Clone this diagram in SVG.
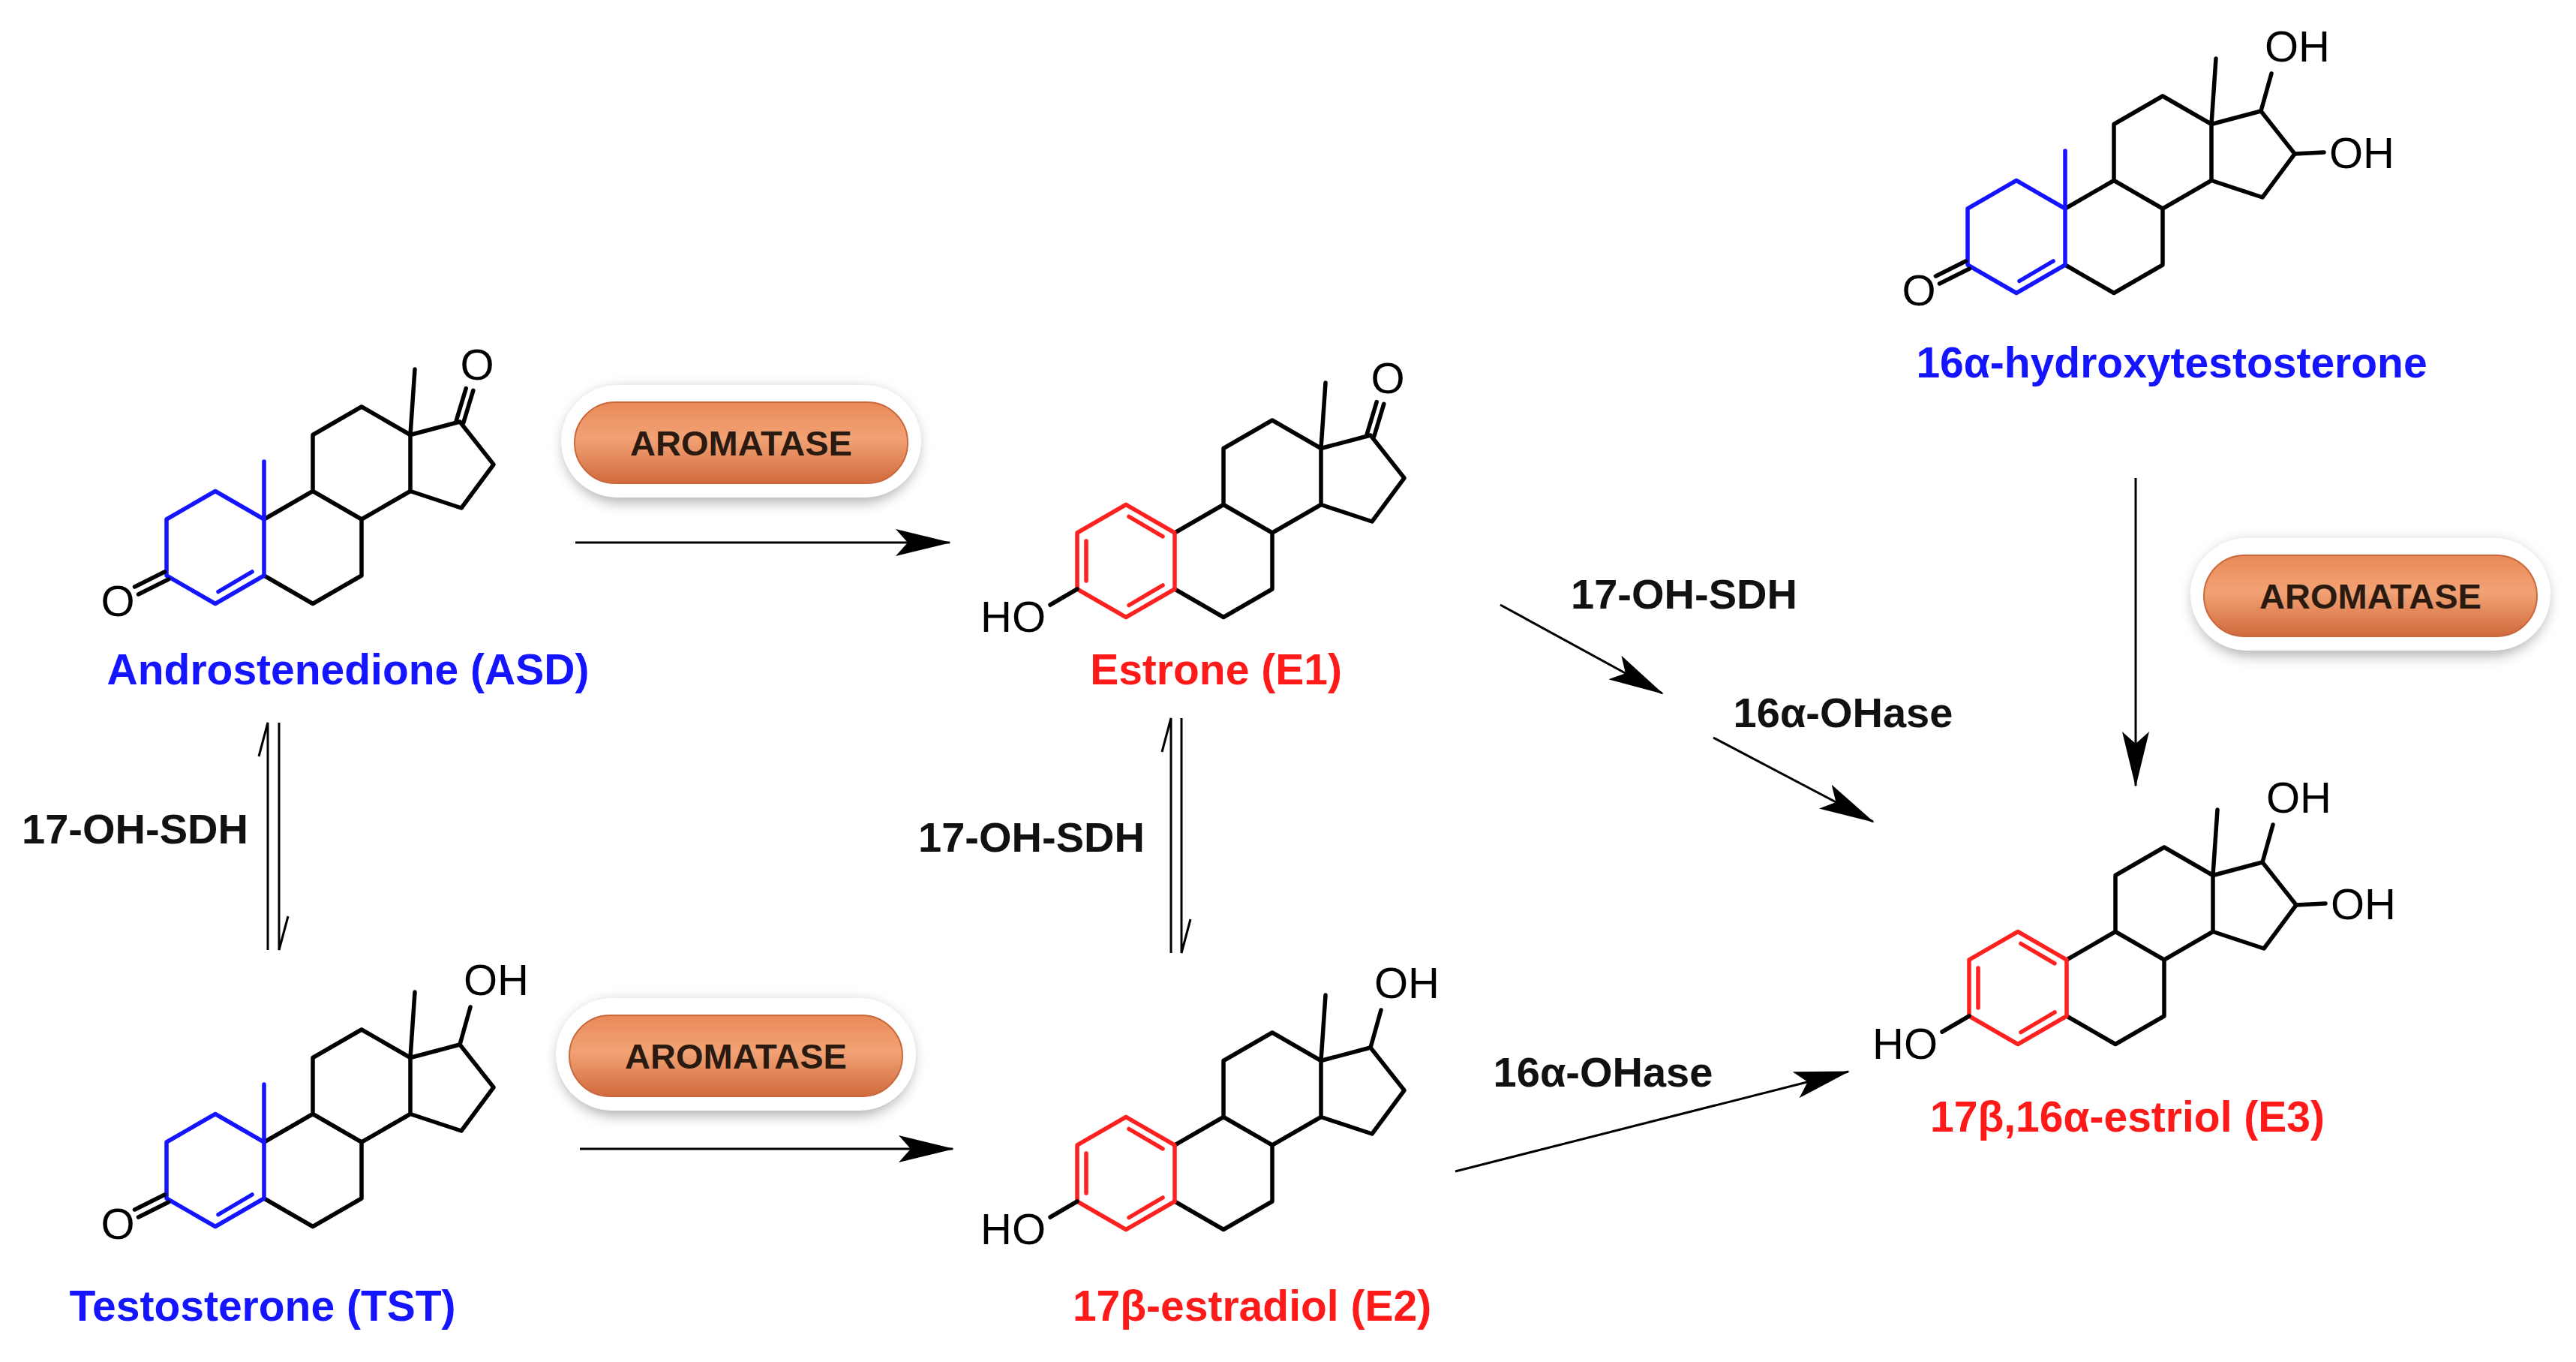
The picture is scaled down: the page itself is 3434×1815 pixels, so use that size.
<svg xmlns="http://www.w3.org/2000/svg" xmlns:xlink="http://www.w3.org/1999/xlink" width="3434" height="1815" viewBox="0 0 3434 1815">
<style>
.bk{fill:none;stroke:#000;stroke-width:5.5;stroke-linecap:round;stroke-linejoin:round}
.bl{fill:none;stroke:#1414ff;stroke-width:5.5;stroke-linecap:round;stroke-linejoin:round}
.rd{fill:none;stroke:#ff2020;stroke-width:5.5;stroke-linecap:round;stroke-linejoin:round}
.at{font-family:"Liberation Sans",Arial,sans-serif;font-size:58px;fill:#000}
.nm{font-family:"Liberation Sans",Arial,sans-serif;font-size:57px;font-weight:bold;text-anchor:middle}
.blue{fill:#1414ff}.red{fill:#ff1a1a}
.enz{font-family:"Liberation Sans",Arial,sans-serif;font-size:56px;font-weight:bold;fill:#111;text-anchor:middle}
.ar{fill:none;stroke:#000;stroke-width:3}
.pt{font-family:"Liberation Sans",Arial,sans-serif;font-size:47px;font-weight:bold;fill:#2a1a10;text-anchor:middle}
</style>
<defs>
<marker id="ah" viewBox="0 0 74 36" refX="72" refY="18" markerWidth="74" markerHeight="36" markerUnits="userSpaceOnUse" orient="auto">
<path d="M0,0 L74,18 L0,36 L16,18 Z" fill="#000"/>
</marker>
<linearGradient id="og" x1="0" y1="0" x2="0" y2="1">
<stop offset="0" stop-color="#e98a58"/><stop offset="0.45" stop-color="#f2a275"/><stop offset="1" stop-color="#d06a3c"/>
</linearGradient>
<filter id="sh" x="-20%" y="-40%" width="140%" height="180%"><feGaussianBlur stdDeviation="9"/></filter>
<g id="pill">
<rect x="-236" y="-72" width="472" height="150" rx="75" fill="#888" opacity="0.7" filter="url(#sh)"/>
<rect x="-240" y="-78" width="480" height="150" rx="75" fill="#fff"/>
<rect x="-222" y="-55" width="444" height="108" rx="54" fill="url(#og)" stroke="#c9683c" stroke-width="2"/>
</g>
<g id="bcd">
<path class="bk" d="M0,75 L65,112.5 L130,75 L130,0 L65,-37.5 L0,0 M65,-37.5 L65,-112.5 L130,-150 L195,-112.5 L195,-37.5 L130,0 M195,-112.5 L261,-130 L306,-73 L263,-15 L195,-37.5 M195,-112.5 L201,-200"/>
</g>
<g id="andA">
<path class="bl" d="M0,0 L-65,-37.5 L-130,0 L-130,75 L-65,112.5 L0,75 Z M-61,96.5 L-16,70 M0,0 L0,-77"/>
<path class="bk" d="M-127.5,80 L-167.5,100 M-132.5,70 L-172.5,90"/>
<text class="at" x="-195" y="129" text-anchor="middle">O</text>
</g>
<g id="estA">
<path class="rd" d="M0,0 L-65,-37.5 L-130,0 L-130,75 L-65,112.5 L0,75 Z M-61,-21.5 L-16,4.8 M-118,11 L-118,64 M-61,96.5 L-16,70"/>
<path class="bk" d="M-130,75 L-166,96"/>
<text class="at" x="-172" y="132" text-anchor="end">HO</text>
</g>
<g id="keto">
<path class="bk" d="M265.8,-128.6 L278.8,-171.6 M256.2,-131.4 L269.2,-174.4"/>
<text class="at" x="284" y="-186" text-anchor="middle">O</text>
</g>
<g id="oh17">
<path class="bk" d="M261,-130 L275,-180"/>
<text class="at" x="266" y="-196">OH</text>
</g>
<g id="oh16">
<path class="bk" d="M306,-73 L345,-75"/>
<text class="at" x="352" y="-54">OH</text>
</g>
</defs>
<rect width="3434" height="1815" fill="#fff"/>

<g id="connectors">
<line class="ar" x1="767" y1="723" x2="1266" y2="723" marker-end="url(#ah)"/>
<line class="ar" x1="773" y1="1531" x2="1270" y2="1531" marker-end="url(#ah)"/>
<path class="ar" d="M357,1266 L357,963 L345,1008 M372,963 L372,1266 L384,1221"/>
<path class="ar" d="M1561,1270 L1561,957 L1549,1002 M1575,957 L1575,1270 L1587,1225"/>
<line class="ar" x1="2000" y1="806" x2="2216" y2="924" marker-end="url(#ah)"/>
<line class="ar" x1="2284" y1="983" x2="2497" y2="1095" marker-end="url(#ah)"/>
<line class="ar" x1="1940" y1="1561" x2="2464" y2="1428" marker-end="url(#ah)"/>
<line class="ar" x1="2847" y1="637" x2="2847" y2="1047" marker-end="url(#ah)"/>
<text class="enz" x="180" y="1124">17-OH-SDH</text>
<text class="enz" x="1375" y="1135">17-OH-SDH</text>
<text class="enz" x="2245" y="811">17-OH-SDH</text>
<text class="enz" x="2457" y="969">16α-OHase</text>
<text class="enz" x="2137" y="1448">16α-OHase</text>
</g>

<g id="ASD" transform="translate(352,692)">
<use href="#bcd"/><use href="#andA"/><use href="#keto"/>
<text class="nm blue" x="112" y="220">Androstenedione (ASD)</text>
</g>
<g id="TST" transform="translate(352,1522)">
<use href="#bcd"/><use href="#andA"/><use href="#oh17"/>
<text class="nm blue" x="-2" y="238">Testosterone (TST)</text>
</g>
<g id="E1" transform="translate(1566,710)">
<use href="#bcd"/><use href="#estA"/><use href="#keto"/>
<text class="nm red" x="55" y="202">Estrone (E1)</text>
</g>
<g id="E2" transform="translate(1566,1526)">
<use href="#bcd"/><use href="#estA"/><use href="#oh17"/>
<text class="nm red" x="103" y="234">17β-estradiol (E2)</text>
</g>
<g id="OHT" transform="translate(2753,278)">
<use href="#bcd"/><use href="#andA"/><use href="#oh17"/><use href="#oh16"/>
<text class="nm blue" x="142" y="225">16α-hydroxytestosterone</text>
</g>
<g id="E3" transform="translate(2755,1279)">
<use href="#bcd"/><use href="#estA"/><use href="#oh17"/><use href="#oh16"/>
<text class="nm red" x="81" y="229">17β,16α-estriol (E3)</text>
</g>

<g id="aromatase1" transform="translate(988,591)"><use href="#pill"/><text class="pt" y="16">AROMATASE</text></g>
<g id="aromatase2" transform="translate(981,1408)"><use href="#pill"/><text class="pt" y="16">AROMATASE</text></g>
<g id="aromatase3" transform="translate(3160,795)"><use href="#pill"/><text class="pt" y="16">AROMATASE</text></g>
</svg>
